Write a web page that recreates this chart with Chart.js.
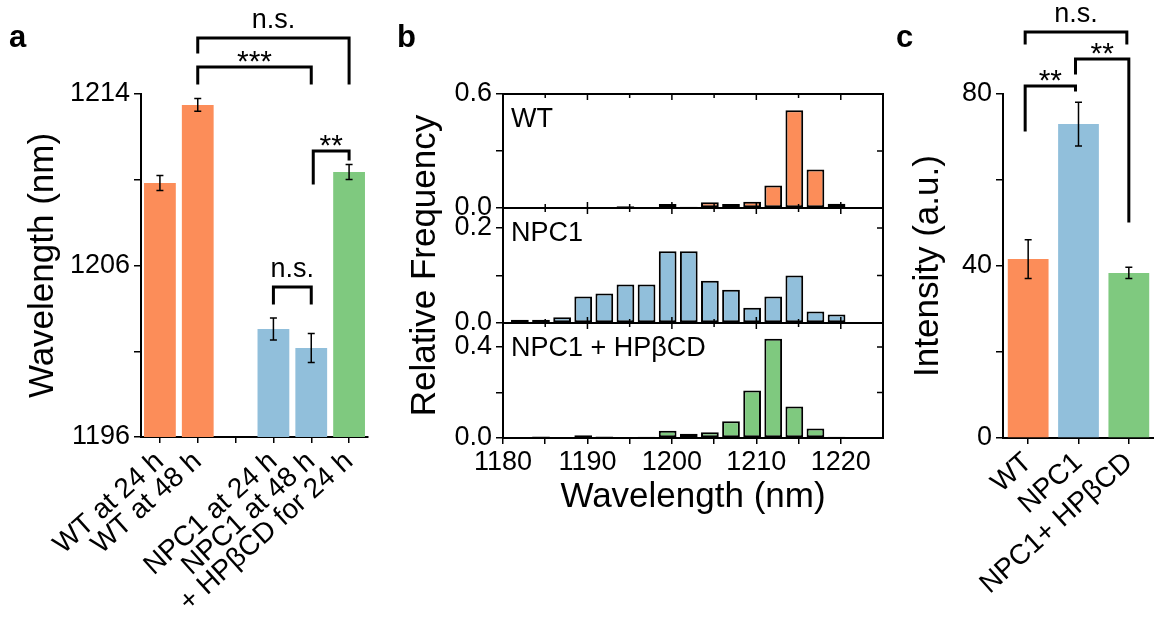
<!DOCTYPE html>
<html><head><meta charset="utf-8">
<script src="https://cdn.jsdelivr.net/npm/chart.js@4.4.1/dist/chart.umd.min.js"></script>
<style>
html,body{margin:0;padding:0;background:#fff;}
#wrap{position:relative;width:1154px;height:621px;overflow:hidden;background:#fff;}
canvas{position:absolute;left:0;top:0;}
</style></head><body>
<div id="wrap">
<canvas id="ca" width="1154" height="621"></canvas>
<canvas id="cb1" width="1154" height="621"></canvas>
<canvas id="cb2" width="1154" height="621"></canvas>
<canvas id="cb3" width="1154" height="621"></canvas>
<canvas id="cc" width="1154" height="621"></canvas>
</div>
<script>
// ---------- data ----------
// panel a
const catsA = ['WT at 24 h', 'WT at 48 h', '', 'NPC1 at 24 h', 'NPC1 at 48 h', '+ HP\u03B2CD for 24 h'];
const wavelengthA = [1209.85, 1213.49, null, 1203.04, 1202.15, 1210.36];
const wavelengthErrA = [0.35, 0.30, null, 0.51, 0.68, 0.35];
const yTicksA = [1198, 1202, 1206, 1210, 1214];
const yTickLabelsA = ['1196', '', '1206', '', '1214'];

// panel b (histogram bins, nm)
const binCenters = [1182, 1184.5, 1187, 1189.5, 1192, 1194.5, 1197, 1199.5, 1202, 1204.5, 1207, 1209.5, 1212, 1214.5, 1217, 1219.5];
const freqWT   = [0, 0, 0, 0, 0, 0.009, 0.004, 0.021, 0.007, 0.030, 0.021, 0.033, 0.119, 0.514, 0.202, 0.023];
const freqNPC1 = [0.007, 0.007, 0.012, 0.056, 0.062, 0.081, 0.081, 0.151, 0.151, 0.089, 0.070, 0.032, 0.056, 0.100, 0.024, 0.018];
const freqHP   = [0, 0.007, 0, 0.012, 0.007, 0, 0.006, 0.032, 0.019, 0.025, 0.074, 0.209, 0.436, 0.138, 0.042, 0.006];
const xTicksB = [1180, 1190, 1200, 1210, 1220];
const yTicksB1 = [0, 0.3, 0.6], yTickLabelsB1 = ['0.0', '', '0.6'];
const yTicksB2 = [0, 0.1, 0.2], yTickLabelsB2 = ['0.0', '', '0.2'];
const yTicksB3 = [0, 0.2, 0.4], yTickLabelsB3 = ['0.0', '', '0.4'];
const subLabelsB = ['WT', 'NPC1', 'NPC1 + HP\u03B2CD'];

// panel c
const catsC = ['WT', 'NPC1', 'NPC1+ HP\u03B2CD'];
const intensityC = [41.6, 73.0, 38.4];
const intensityErrC = [4.5, 5.1, 1.3];
const yTicksC = [0, 20, 40, 60, 80];
const yTickLabelsC = ['0', '', '40', '', '80'];

// ---------- styles ----------
const ORANGE = '#FC8D59', BLUE = '#91BFDB', GREEN = '#7FC97F';
const FONT = "'Liberation Sans', Arial, Helvetica, sans-serif";
Chart.defaults.font.family = FONT;
Chart.defaults.color = '#000';
Chart.defaults.animation = false;
Chart.defaults.responsive = false;
Chart.defaults.plugins.legend.display = false;
Chart.defaults.plugins.tooltip.enabled = false;

// significance brackets (y in data units of each panel)
const bracketsA = [
  {from: 1, to: 5, line: 1216.61, leftEnd: 1215.96, rightEnd: 1214.51, text: 'n.s.'},
  {from: 1, to: 4, line: 1215.26, leftEnd: 1214.51, rightEnd: 1214.51, text: '***'},
  {from: 4, to: 5, line: 1211.34, leftEnd: 1209.85, rightEnd: 1210.97, text: '**', dx1: 2},
  {from: 3, to: 4, line: 1205.0, leftEnd: 1204.25, rightEnd: 1204.25, text: 'n.s.'}
];
const bracketsC = [
  {from: 0, to: 2, line: 94.4, leftEnd: 91.86, rightEnd: 91.86, text: 'n.s.', dx1: -3, dx2: -2},
  {from: 0, to: 1, line: 81.86, leftEnd: 71.63, rightEnd: 80.93, text: '**', dx1: -3, dx2: -3},
  {from: 1, to: 2, line: 88.14, leftEnd: 84.88, rightEnd: 50.47, text: '**', dx1: -3}
];

function labelFrom(ticks, labels) {
  return function (v) {
    for (let i = 0; i < ticks.length; i++) if (Math.abs(ticks[i] - v) < 1e-6) return labels[i];
    return '';
  };
}
function setTicks(vals) { return function (s) { s.ticks = vals.map(v => ({value: v})); }; }
function fixW(w) { return function (s) { s.width = w; }; }
function fixH(h) { return function (s) { s.height = h; }; }

function errPlugin(errs) {
  return { id: 'err', afterDatasetsDraw(chart) {
    const ctx = chart.ctx, y = chart.scales.y;
    const meta = chart.getDatasetMeta(0), vals = chart.data.datasets[0].data;
    ctx.save(); ctx.strokeStyle = '#000'; ctx.lineWidth = 1.5;
    meta.data.forEach((bar, i) => {
      if (vals[i] == null || errs[i] == null) return;
      const px = bar.x, yt = y.getPixelForValue(vals[i] + errs[i]), yb = y.getPixelForValue(vals[i] - errs[i]);
      ctx.beginPath();
      ctx.moveTo(px, yt); ctx.lineTo(px, yb);
      ctx.moveTo(px - 3.5, yt); ctx.lineTo(px + 3.5, yt);
      ctx.moveTo(px - 3.5, yb); ctx.lineTo(px + 3.5, yb);
      ctx.stroke();
    });
    ctx.restore();
  }};
}
function sigPlugin(brackets) {
  return { id: 'sig', afterDraw(chart) {
    const ctx = chart.ctx, x = chart.scales.x, y = chart.scales.y;
    ctx.save(); ctx.strokeStyle = '#000'; ctx.fillStyle = '#000'; ctx.lineWidth = 3;
    ctx.lineJoin = 'miter'; ctx.lineCap = 'square';
    brackets.forEach(b => {
      const x1 = x.getPixelForValue(b.from) + (b.dx1 || 0), x2 = x.getPixelForValue(b.to) + (b.dx2 || 0);
      const yl = y.getPixelForValue(b.line), y1 = y.getPixelForValue(b.leftEnd), y2 = y.getPixelForValue(b.rightEnd);
      ctx.beginPath(); ctx.moveTo(x1, y1); ctx.lineTo(x1, yl); ctx.lineTo(x2, yl); ctx.lineTo(x2, y2); ctx.stroke();
      const star = b.text.indexOf('*') >= 0;
      ctx.font = (star ? '30px ' : '27px ') + FONT;
      ctx.textAlign = 'center'; ctx.textBaseline = 'alphabetic';
      ctx.fillText(b.text, (x1 + x2) / 2, star ? yl + 4 : yl - 10);
    });
    ctx.restore();
  }};
}
function letterPlugin(letter, px, py) {
  return { id: 'letter', afterDraw(chart) {
    const ctx = chart.ctx; ctx.save(); ctx.fillStyle = '#000';
    ctx.font = 'bold 31px ' + FONT; ctx.textAlign = 'left'; ctx.textBaseline = 'alphabetic';
    ctx.fillText(letter, px, py); ctx.restore();
  }};
}
function boxPlugin(sub, bottomInner) {
  return { id: 'box', afterDraw(chart) {
    const ctx = chart.ctx, a = chart.chartArea, x = chart.scales.x, y = chart.scales.y;
    ctx.save(); ctx.strokeStyle = '#000';
    ctx.lineWidth = 1.5; ctx.beginPath();
    for (let v = 1185; v < 1225; v += 5) {
      const px = x.getPixelForValue(v), L = (v % 10 === 0) ? 6 : 4;
      ctx.moveTo(px, a.top); ctx.lineTo(px, a.top + L);
      if (bottomInner) { ctx.moveTo(px, a.bottom); ctx.lineTo(px, a.bottom - L); }
    }
    y.ticks.forEach(t => {
      const py = y.getPixelForValue(t.value);
      if (py > a.top + 1 && py < a.bottom - 1) { ctx.moveTo(a.right, py); ctx.lineTo(a.right - 6, py); }
    });
    ctx.stroke();
    ctx.lineWidth = 2; ctx.strokeRect(a.left, a.top, a.right - a.left, a.bottom - a.top);
    ctx.fillStyle = '#000'; ctx.font = '27px ' + FONT; ctx.textAlign = 'left'; ctx.textBaseline = 'alphabetic';
    ctx.fillText(sub, a.left + 8, a.top + 33);
    ctx.restore();
  }};
}

const axisGrid = (len) => ({display: true, offset: false, drawOnChartArea: false, drawTicks: true, tickLength: len, color: '#000', lineWidth: 1.5});
const axisBorder = {display: true, color: '#000', width: 2};

// ---------- panel a ----------
new Chart(document.getElementById('ca'), {
  type: 'bar',
  data: {labels: catsA, datasets: [{data: wavelengthA, backgroundColor: [ORANGE, ORANGE, ORANGE, BLUE, BLUE, GREEN], borderWidth: 0, barPercentage: 0.84, categoryPercentage: 1}]},
  options: {
    layout: {padding: {left: 1, top: 94, right: 1154 - 368, bottom: 0}},
    scales: {
      x: {afterFit: fixH(621 - 437), grid: axisGrid(6), border: axisBorder,
          ticks: {autoSkip: false, minRotation: 42, maxRotation: 42, padding: 2, font: {size: 28}}},
      y: {min: 1198, max: 1214, afterFit: fixW(140), afterBuildTicks: setTicks(yTicksA),
          grid: axisGrid(7), border: axisBorder,
          ticks: {callback: labelFrom(yTicksA, yTickLabelsA), padding: 4, font: {size: 27}},
          title: {display: true, text: 'Wavelength (nm)', font: {size: 35}, padding: {top: 21, bottom: 0}}}
    }
  },
  plugins: [errPlugin(wavelengthErrA), sigPlugin(bracketsA), letterPlugin('a', 9, 47)]
});

// ---------- panel b ----------
function histChart(id, freq, color, yMax, yTicks, yLabels, top, bottom, sub, isBottom, withTitle) {
  const xH = isBottom ? 80 : 0;
  return new Chart(document.getElementById(id), {
    type: 'bar',
    data: {datasets: [{data: binCenters.map((c, i) => ({x: c, y: freq[i] > 0 ? freq[i] : null})), backgroundColor: color, borderColor: '#000', borderWidth: 2, borderSkipped: false, barPercentage: 0.84, categoryPercentage: 1}]},
    options: {
      layout: {padding: {left: 385, top: top, right: 1154 - 883, bottom: 621 - bottom - xH}},
      scales: {
        x: {type: 'linear', offset: false, min: 1180, max: 1225, display: isBottom, afterFit: fixH(xH),
            afterBuildTicks: setTicks([1180, 1185, 1190, 1195, 1200, 1205, 1210, 1215, 1220]),
            grid: axisGrid(6), border: {display: false},
            ticks: {callback: labelFrom(xTicksB, xTicksB.map(String)), padding: 2, maxRotation: 0, autoSkip: false, font: {size: 27}},
            title: {display: true, text: 'Wavelength (nm)', font: {size: 35}, padding: {top: 0, bottom: 0}}},
        y: {min: 0, max: yMax, afterFit: fixW(118), afterBuildTicks: setTicks(yTicks),
            grid: axisGrid(7), border: {display: false},
            ticks: {callback: labelFrom(yTicks, yLabels), padding: 4, font: {size: 27}},
            title: {display: withTitle, text: 'Relative Frequency', font: {size: 35}, padding: {top: 19, bottom: 0}}}
      }
    },
    plugins: [boxPlugin(sub, !isBottom)].concat(id === 'cb1' ? [letterPlugin('b', 397, 47)] : [])
  });
}
histChart('cb1', freqWT, ORANGE, 0.6, yTicksB1, yTickLabelsB1, 94, 208, subLabelsB[0], false, false);
histChart('cb2', freqNPC1, BLUE, 0.242, yTicksB2, yTickLabelsB2, 208, 323, subLabelsB[1], false, true);
histChart('cb3', freqHP, GREEN, 0.505, yTicksB3, yTickLabelsB3, 323, 438, subLabelsB[2], true, false);

// ---------- panel c ----------
new Chart(document.getElementById('cc'), {
  type: 'bar',
  data: {labels: catsC, datasets: [{data: intensityC, backgroundColor: [ORANGE, BLUE, GREEN], borderWidth: 0, barPercentage: 0.81, categoryPercentage: 1}]},
  options: {
    layout: {padding: {left: 890, top: 94, right: 0, bottom: 0}},
    scales: {
      x: {afterFit: fixH(621 - 438), grid: axisGrid(6), border: axisBorder,
          ticks: {autoSkip: false, minRotation: 42, maxRotation: 42, padding: 2, font: {size: 28}}},
      y: {min: 0, max: 80, afterFit: fixW(113), afterBuildTicks: setTicks(yTicksC),
          grid: axisGrid(7), border: axisBorder,
          ticks: {callback: labelFrom(yTicksC, yTickLabelsC), padding: 4, font: {size: 27}},
          title: {display: true, text: 'Intensity (a.u.)', font: {size: 35}, padding: {top: 17, bottom: 0}}}
    }
  },
  plugins: [errPlugin(intensityErrC), sigPlugin(bracketsC), letterPlugin('c', 896, 47)]
});
</script>
</body></html>
